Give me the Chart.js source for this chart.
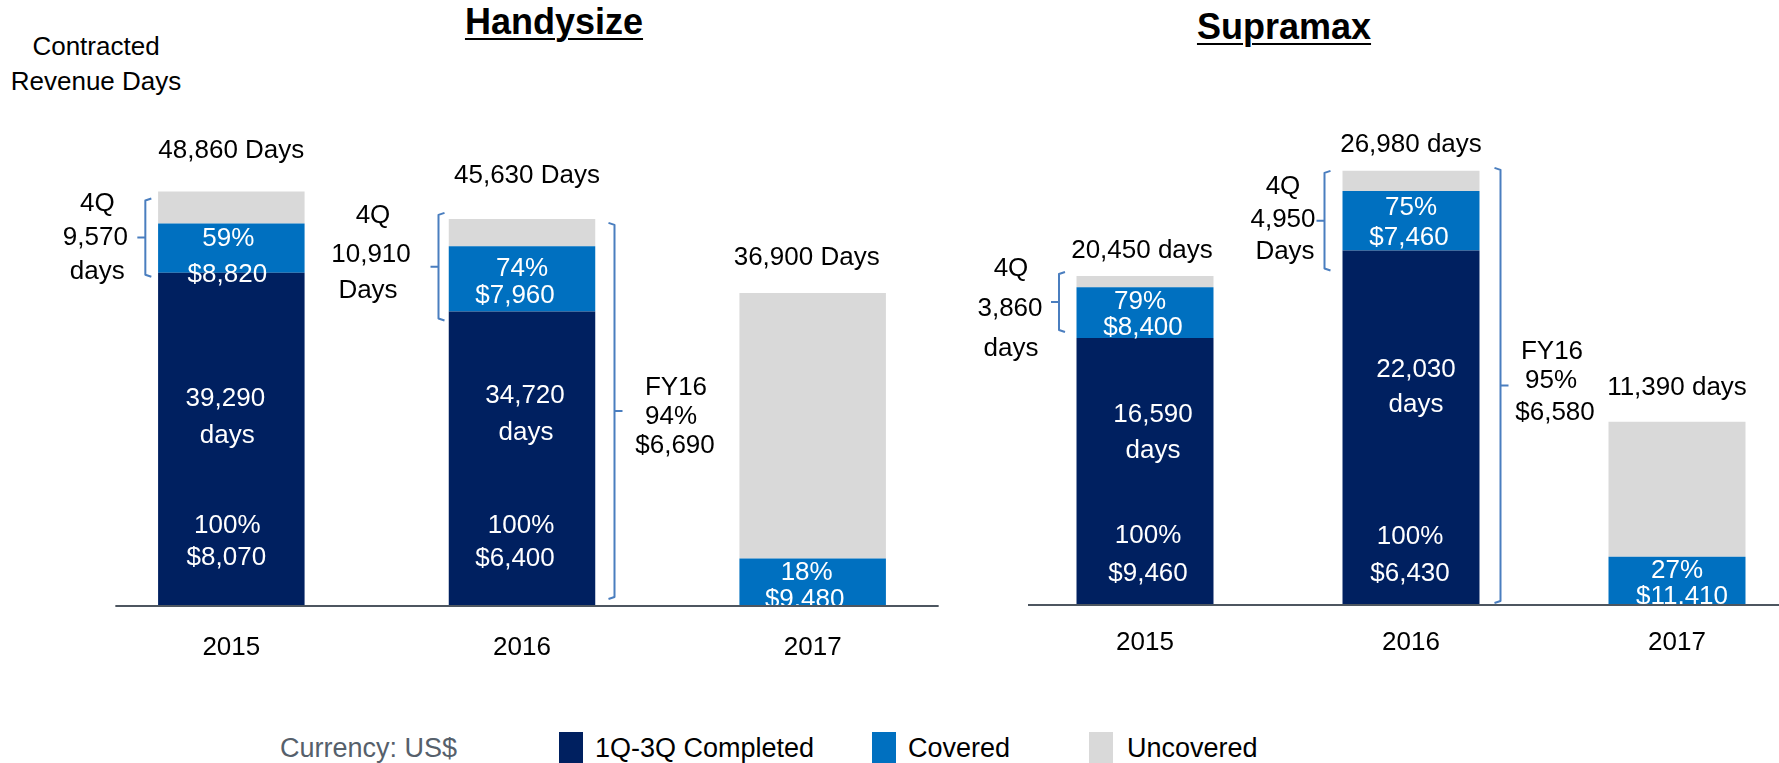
<!DOCTYPE html>
<html>
<head>
<meta charset="utf-8">
<script src="https://cdn.jsdelivr.net/npm/chart.js"></script>
<style>
  html, body { margin: 0; padding: 0; background: #fff; overflow: hidden; }
  body { width: 1779px; height: 763px; position: relative; font-family: "Liberation Sans", Arial, sans-serif; }
  canvas { position: absolute; top: 0; }
  #cLeft { left: 0; }
  #cRight { left: 930px; }
  .title { position: absolute; font-weight: bold; font-size: 36px; line-height: 40px; text-decoration: underline; text-decoration-thickness: 2px; text-underline-offset: 4px; white-space: nowrap; transform: translateX(-50%); }
  .txt { position: absolute; font-size: 26px; white-space: nowrap; }
  .sw { position: absolute; width: 24px; height: 32px; top: 732px; }
  .lg { position: absolute; font-size: 27px; line-height: 32px; top: 732px; white-space: nowrap; }
</style>
</head>
<body>
<div class="title" style="left:554px; top:2px;">Handysize</div>
<div class="title" style="left:1284px; top:7px;">Supramax</div>
<div class="txt" style="left:0; width:192px; top:29px; line-height:35px; text-align:center;">Contracted<br>Revenue Days</div>
<div class="lg" style="left:280px; color:#56606b;">Currency: US$</div>
<div class="sw" style="left:559px; background:#002060;"></div>
<div class="lg" style="left:595px;">1Q-3Q Completed</div>
<div class="sw" style="left:872px; background:#0070c0;"></div>
<div class="lg" style="left:908px;">Covered</div>
<div class="sw" style="left:1089px; background:#d9d9d9;"></div>
<div class="lg" style="left:1127px;">Uncovered</div>

<canvas id="cLeft" width="958" height="700"></canvas>
<canvas id="cRight" width="880" height="700"></canvas>

<script>
// categories
const years = ['2015', '2016', '2017'];

// Handysize, revenue days
const handyCompleted = [39290, 34720, 0];
const handyCovered = [5800, 7700, 5600];
const handyUncovered = [3770, 3210, 31300];

// Supramax, revenue days
const supraCompleted = [16590, 22030, 0];
const supraCovered = [3150, 3700, 3000];
const supraUncovered = [710, 1250, 8390];

const NAVY = '#002060', BLUE = '#0070c0', GREY = '#d9d9d9';
const W = '#ffffff', K = '#000000';
const FONT = '"Liberation Sans", Arial, sans-serif';

// notes: [category, dx, px above baseline, text, colour]
const handyNotes = [
  [0, 0, 455, '48,860 Days', K],
  [0, -3, 367, '59%', W], [0, -4, 331, '$8,820', W],
  [0, -6, 207, '39,290', W], [0, -4, 170, 'days', W],
  [0, -4, 80, '100%', W], [0, -5, 48, '$8,070', W],
  [0, -134, 402, '4Q', K], [0, -136, 368, '9,570', K], [0, -134, 334, 'days', K],
  [1, 5, 430, '45,630 Days', K],
  [1, 0, 337, '74%', W], [1, -7, 310, '$7,960', W],
  [1, 3, 210, '34,720', W], [1, 4, 173, 'days', W],
  [1, -1, 80, '100%', W], [1, -7, 47, '$6,400', W],
  [1, -149, 390, '4Q', K], [1, -151, 351, '10,910', K], [1, -154, 315, 'Days', K],
  [1, 154, 218, 'FY16', K], [1, 149, 189, '94%', K], [1, 153, 160, '$6,690', K],
  [2, -6, 348, '36,900 Days', K],
  [2, -6, 33, '18%', W], [2, -8, 6, '$9,480', W]
];
const supraNotes = [
  [0, -3, 354, '20,450 days', K],
  [0, -5, 303, '79%', W], [0, -2, 277, '$8,400', W],
  [0, 8, 190, '16,590', W], [0, 8, 154, 'days', W],
  [0, 3, 69, '100%', W], [0, 3, 31, '$9,460', W],
  [0, -134, 336, '4Q', K], [0, -135, 296, '3,860', K], [0, -134, 256, 'days', K],
  [1, 0, 460, '26,980 days', K],
  [1, 0, 397, '75%', W], [1, -2, 367, '$7,460', W],
  [1, 5, 235, '22,030', W], [1, 5, 200, 'days', W],
  [1, -1, 68, '100%', W], [1, -1, 31, '$6,430', W],
  [1, -128, 418, '4Q', K], [1, -128, 385, '4,950', K], [1, -126, 353, 'Days', K],
  [1, 141, 253, 'FY16', K], [1, 140, 224, '95%', K], [1, 144, 192, '$6,580', K],
  [2, 0, 217, '11,390 days', K],
  [2, 0, 34, '27%', W], [2, 5, 8, '$11,410', W]
];

// brackets: [category, dx, stack level top, stack level bottom, dTop, dBot, dir]
const handyBrackets = [
  [0, -86, 3, 1, 7, 4, 1],
  [1, -83.5, 3, 1, -6, 9, 1],
  [1, 92.5, 3, 0, 4, -7, -1]
];
const supraBrackets = [
  [0, -86, 3, 1, -4, -6, 1],
  [1, -86.5, 3, 1, 0, 20, 1],
  [1, 89.5, 3, 0, -3, -2, -1]
];

function stackTo(chart, i, level) {
  let s = 0;
  for (let k = 0; k < level; k++) s += chart.data.datasets[k].data[i];
  return s;
}

const annot = {
  id: 'annot',
  afterDatasetsDraw(chart, args, o) {
    const { ctx } = chart;
    const xs = chart.scales.x, ys = chart.scales.y;
    const base = ys.getPixelForValue(0);
    ctx.save();
    // baseline
    ctx.strokeStyle = '#4d5660';
    ctx.lineWidth = 2;
    ctx.beginPath();
    ctx.moveTo(xs.getPixelForValue(0) + o.baseFrom, base);
    ctx.lineTo(xs.getPixelForValue(2) + o.baseTo, base);
    ctx.stroke();

    // brackets
    ctx.strokeStyle = '#4a7ebf';
    ctx.lineWidth = 2;
    ctx.lineJoin = 'round';
    o.brackets.forEach(([i, dx, lt, lb, dt, db, dir]) => {
      const x = xs.getPixelForValue(i) + dx;
      const top = ys.getPixelForValue(stackTo(chart, i, lt)) + dt;
      const bot = ys.getPixelForValue(stackTo(chart, i, lb)) + db;
      const mid = (top + bot) / 2;
      ctx.beginPath();
      ctx.moveTo(x + 6 * dir, top);
      ctx.lineTo(x, top + 2);
      ctx.lineTo(x, bot - 2);
      ctx.lineTo(x + 6 * dir, bot);
      ctx.moveTo(x, mid);
      ctx.lineTo(x - 8 * dir, mid);
      ctx.stroke();
    });

    // texts
    ctx.font = '26px ' + FONT;
    ctx.textAlign = 'center';
    ctx.textBaseline = 'middle';
    o.notes.forEach(([i, dx, up, t, c]) => {
      const x = xs.getPixelForValue(i) + dx;
      const y = base - up;
      ctx.save();
      if (c === W) {
        ctx.beginPath();
        ctx.rect(0, 0, chart.width, base - 1);
        ctx.clip();
      }
      ctx.fillStyle = c;
      ctx.fillText(t, x, y);
      ctx.restore();
    });
    ctx.restore();
  }
};

function makeChart(id, completed, covered, uncovered, yMax, padLeft, padTop, axisH, tickPad, barPct, notes, brackets, baseFrom, baseTo) {
  return new Chart(document.getElementById(id), {
    type: 'bar',
    data: {
      labels: years,
      datasets: [
        { label: '1Q-3Q Completed', data: completed, backgroundColor: NAVY },
        { label: 'Covered', data: covered, backgroundColor: BLUE },
        { label: 'Uncovered', data: uncovered, backgroundColor: GREY }
      ]
    },
    options: {
      responsive: false,
      animation: false,
      devicePixelRatio: 1,
      layout: { padding: { left: padLeft, right: 0, top: padTop, bottom: 0 } },
      datasets: { bar: { categoryPercentage: 1, barPercentage: barPct, borderWidth: 0 } },
      scales: {
        x: {
          stacked: true,
          grid: { display: false, drawTicks: false },
          border: { display: false },
          ticks: { color: '#000', font: { family: FONT, size: 26 }, padding: tickPad },
          afterFit(s) { s.height = axisH; }
        },
        y: { stacked: true, display: false, min: 0, max: yMax }
      },
      plugins: {
        legend: { display: false },
        tooltip: { enabled: false },
        annot: { notes, brackets, baseFrom, baseTo }
      }
    },
    plugins: [annot]
  });
}

makeChart('cLeft', handyCompleted, handyCovered, handyUncovered, 60000, 86, 97, 94, 26, 0.504,
  handyNotes, handyBrackets, -116, 126);
makeChart('cRight', supraCompleted, supraCovered, supraUncovered, 33000, 82, 74, 95, 22, 0.515,
  supraNotes, supraBrackets, -117, 140);
</script>
</body>
</html>
